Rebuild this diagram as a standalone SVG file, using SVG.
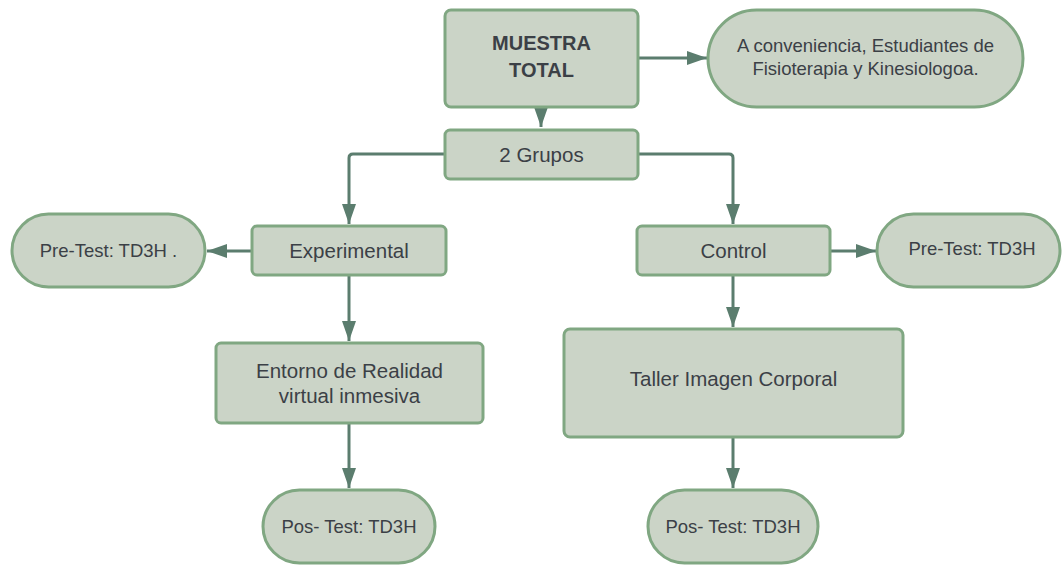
<svg xmlns="http://www.w3.org/2000/svg" width="1062" height="565" viewBox="0 0 1062 565">
<style>
.n{fill:#cbd4c7;stroke:#80a782;stroke-width:3}
.t{font-family:"Liberation Sans",Arial,sans-serif;font-size:20.5px;fill:#3b4046;text-anchor:middle}
.o{font-size:18.5px}
.b{font-weight:bold;font-size:20px}
.c{fill:none;stroke:#5b7d6e;stroke-width:3}
</style>
<defs>
<marker id="ah" markerUnits="userSpaceOnUse" markerWidth="20" markerHeight="14" refX="20" refY="7" orient="auto">
<path d="M0,0 L20,7 L0,14 z" fill="#5b7d6e"/>
</marker>
</defs>
<rect width="1062" height="565" fill="#ffffff"/>
<g id="connectors">
<path class="c" d="M541,107 V127" marker-end="url(#ah)"/>
<path class="c" d="M638,58 H707" marker-end="url(#ah)"/>
<path class="c" d="M445,154 H353 Q349,154 349,158 V224" marker-end="url(#ah)"/>
<path class="c" d="M638,154 H729 Q733,154 733,158 V224" marker-end="url(#ah)"/>
<path class="c" d="M252,251 H207" marker-end="url(#ah)"/>
<path class="c" d="M831,251 H876" marker-end="url(#ah)"/>
<path class="c" d="M349,275 V341" marker-end="url(#ah)"/>
<path class="c" d="M733,275 V327" marker-end="url(#ah)"/>
<path class="c" d="M349,423 V488" marker-end="url(#ah)"/>
<path class="c" d="M733,437 V488" marker-end="url(#ah)"/>
</g>
<g id="muestra">
<rect class="n" x="445" y="10" width="193" height="97" rx="6"/>
<text class="t b" x="541.5" y="50">MUESTRA</text>
<text class="t b" x="541.5" y="77">TOTAL</text>
</g>
<g id="conveniencia">
<rect class="n" x="708" y="10" width="315" height="97" rx="48.5"/>
<text class="t o" x="865.5" y="51.5">A conveniencia, Estudiantes de</text>
<text class="t o" x="865.5" y="75">Fisioterapia y Kinesiologoa.</text>
</g>
<g id="grupos">
<rect class="n" x="445" y="130" width="193" height="49" rx="5"/>
<text class="t" x="541.5" y="162">2 Grupos</text>
</g>
<g id="experimental">
<rect class="n" x="252" y="226" width="194" height="49" rx="5"/>
<text class="t" x="349" y="258">Experimental</text>
</g>
<g id="pretest-exp">
<rect class="n" x="12" y="214" width="193" height="73" rx="36.5"/>
<text class="t o" x="108.5" y="256.5">Pre-Test: TD3H .</text>
</g>
<g id="control">
<rect class="n" x="637" y="226" width="193" height="49" rx="5"/>
<text class="t" x="733.5" y="258">Control</text>
</g>
<g id="pretest-ctrl">
<rect class="n" x="877" y="214" width="183" height="73" rx="36.5"/>
<text class="t o" x="972" y="255">Pre-Test: TD3H</text>
</g>
<g id="entorno">
<rect class="n" x="216" y="343" width="267" height="80" rx="5"/>
<text class="t" x="349.5" y="378">Entorno de Realidad</text>
<text class="t" x="349.5" y="403">virtual inmesiva</text>
</g>
<g id="taller">
<rect class="n" x="564" y="329" width="339" height="108" rx="6"/>
<text class="t" x="733.5" y="386">Taller Imagen Corporal</text>
</g>
<g id="postest-exp">
<rect class="n" x="263" y="490" width="172" height="73" rx="36.5"/>
<text class="t o" x="349" y="532.5">Pos- Test: TD3H</text>
</g>
<g id="postest-ctrl">
<rect class="n" x="648" y="490" width="170" height="73" rx="36.5"/>
<text class="t o" x="733" y="532.5">Pos- Test: TD3H</text>
</g>
</svg>
